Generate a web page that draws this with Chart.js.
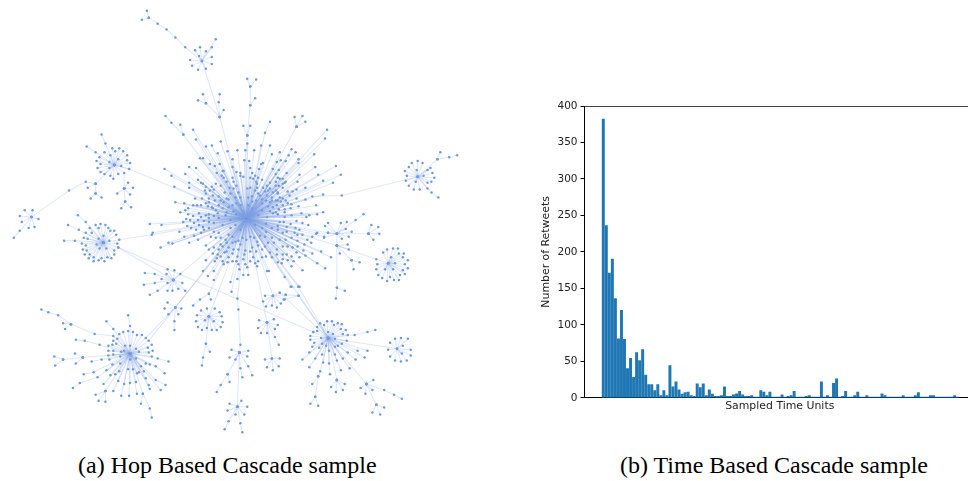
<!DOCTYPE html>
<html>
<head>
<meta charset="utf-8">
<script src="https://cdn.jsdelivr.net/npm/chart.js@4"></script>
<style>
    html, body { margin: 0; padding: 0; background: #fff; width: 968px; height: 481px; overflow: hidden; }
    #red { position: absolute; left: 0; top: 0; width: 530px; height: 445px; }
    #barras { position: absolute; left: 520px; top: 95px; width: 455px; height: 318px; }
    .caption { position: absolute; top: 452px; font: 24px "Liberation Serif", serif; color: #000; white-space: nowrap; }
</style>
</head>
<body>
<div id="red"><canvas id="grafoHop"></canvas></div>
<div id="barras"><canvas id="grafoTime"></canvas></div>
<div class="caption" style="left:78px">(a) Hop Based Cascade sample</div>
<div class="caption" style="left:620px">(b) Time Based Cascade sample</div>

<script>
// Retweets por unidad de tiempo
const retweets = [382,236,171,190,136,81,120,80,40,54,28,62,51,66,31,18,18,10,18,3,10,3,44,15,22,11,5,7,8,3,2,19,14,19,3,11,5,2,2,3,15,
    2,2,4,5.5,8.7,4,2,2,3,1,1,10,8,3,8,1,1,1,4,1,2,3,9,1,1,1,2,3,1,1,1,22,1,3,1,20,26,1,2,9,
    1,1,3,8,1,1,3,1,1,1,1,5.5,3,1,1,1,1,1,3,1,1,1,3,7,1,1,1,3,3,1,1,1,1,1,1,3,1];
const retweetTicks = [0,50,100,150,200,250,300,350,400];

// Nodos centrales de la cascada
const hubMain = [246,218];
const hubTop = [201,58];
const hubEast = [420,176];
const hubMidRight = [338,234];
const hubEast2 = [390,264];
const hubNW = [112,164];
const hubFarLeft = [28,217];
const hubW = [101,243];
const hubSW = [128,356];
const hubSE = [329,340];
const hubRight = [399,351];
const hubC1 = [172,281];
const hubC2 = [174,309];
const hubC3 = [208,318];
const hubC4 = [273,297];
const hubC5 = [267,324];
const hubC6 = [272,361];
const hubC7 = [239,355];
const hubC8 = [237,410];

const leavesMain = [[195,138],[205,145],[211,144],[220,140],[217,152],[237,149],[247,142],[261,144],[270,144],[245,149],[254,149],[227,150],[199,157],[202,157],[292,148],[296,151],[280,151],[272,153],[289,154],[315,153],[326,137],[299,158],[299,162],[286,160],[277,161],[281,159],[263,162],[261,163],[249,160],[244,159],[232,158],[209,163],[214,165],[219,163],[232,166],[188,166],[195,167],[163,168],[170,175],[184,173],[222,170],[223,170],[236,171],[240,172],[250,167],[259,168],[273,168],[279,169],[276,173],[287,172],[300,174],[316,166],[337,165],[342,174],[319,174],[324,180],[334,182],[286,181],[283,183],[298,181],[306,187],[324,194],[306,199],[317,205],[324,212],[318,214],[310,215],[307,217],
    [197,179],[200,182],[216,172],[221,175],[223,177],[232,177],[233,181],[240,175],[243,176],[250,177],[253,178],[256,181],[257,183],[270,182],[267,185],[278,177],[276,181],[285,182],[283,187],[279,185],[202,183],[188,182],[188,187],[173,186],[204,190],[209,190],[213,189],[236,185],[247,188],[250,187],[257,187],[263,187],[268,190],[276,190],[278,192],[288,191],[293,191],[297,189],
    [194,198],[201,198],[205,193],[208,198],[212,195],[218,196],[224,192],[230,193],[235,197],[248,197],[260,195],[267,195],[272,197],[278,193],[283,198],[290,195],[297,198],[174,202],[183,203],[187,208],[208,202],[211,207],[212,208],[218,205],[223,202],[226,198],[232,205],[262,203],[270,202],[277,205],[281,201],[292,204],[299,206],[291,208],[285,209],
    [179,212],[184,210],[187,214],[192,216],[198,213],[200,217],[205,215],[208,214],[217,213],[218,218],[225,215],[230,220],[193,223],[198,225],[202,227],[208,222],[213,223],[222,225],[267,217],[273,213],[278,214],[280,222],[285,217],[292,215],[302,213],[297,221],[303,223],[309,225],[287,227],
    [178,232],[160,225],[151,233],[148,224],[183,237],[193,236],[197,240],[203,230],[208,228],[213,232],[218,233],[228,235],[232,237],[225,240],[235,242],[242,238],[250,237],[257,242],[265,237],[272,238],[278,230],[283,233],[287,232],[295,233],[298,235],[303,235],[313,237],[318,233],[325,237],[167,243],[171,244],[188,243],[159,248],
    [205,246],[213,248],[220,245],[222,247],[228,248],[233,250],[240,245],[245,251],[252,248],[258,246],[265,247],[270,253],[277,250],[283,247],[288,247],[293,248],[298,247],[297,253],[287,255],[283,255],[313,254],[322,252],[332,258],[217,255],[224,253],[228,258],[222,262],[237,257],[243,260],[253,258],[258,262],[266,257],[278,263],[292,257],
    [205,261],[214,262],[223,265],[227,263],[238,265],[245,265],[247,268],[255,264],[257,267],[267,272],[269,272],[282,264],[292,267],[303,271],[318,264],[326,269],[239,270],[243,276],[248,276],[213,272],[207,277],[202,272],[285,278],[292,288],[300,288],[230,283],[237,280],[231,293],[213,281]];
// Nodos del anillo denso alrededor del centro
const leavesMainDense = [[252,172],[255,175],[258,177],[262,179],[255,190],[258,193],[252,196],[265,191],[270,188],[273,192],[280,178],[283,178],[276,185],[272,200],[276,200],[280,197],[286,200],[288,203],[283,205],[278,200],[266,200],[262,199],[256,200],[252,201],[268,206],[273,207],[279,209],[285,212],[276,212],[270,211],
    [205,186],[211,186],[215,183],[220,185],[226,181],[229,187],[233,188],[238,192],[240,197],[228,199],[220,200],[214,200],[207,206],[205,203],[200,205],[196,205],[192,205],[215,210],[222,208],[228,207],[236,203],[240,205],[233,211],[226,212],[213,216],[208,218],[203,221],[197,220],[189,220],[185,219],[182,222],[186,226],[190,228],[195,230],[200,233],
    [210,237],[215,238],[220,238],[226,243],[232,243],[238,241],[246,240],[254,238],[260,236],[266,232],[272,228],[278,226],[284,222],[291,224],[296,228],[300,230],[292,238],[286,240],[280,240],[274,243],[268,243],[262,250],[256,252],[250,252],[244,255],[238,250],[232,254],[226,252],[218,250],[212,254],[208,250],[216,259],[220,257],[232,262],[236,262],[250,262],[262,258],[272,258],[277,255],[283,260],[288,261],[294,262],[300,258],[305,245],[298,241],[308,240],[312,243],[304,251],[306,256],
    [255,225],[258,215],[235,225],[236,214],[252,208],[248,205],[262,210],[266,224],[230,228],[262,228],[240,230]];
const leavesTop = [[215,36],[211,44],[205,48],[199,44],[194,47],[198,53],[189,57],[191,63],[197,67],[205,66],[211,61],[211,54]];
const leavesEast = [[433,167],[435,172],[437,177],[434,181],[430,182],[430,188],[422,189],[416,189],[411,185],[408,180],[409,175],[407,170],[411,166],[414,162],[420,160],[425,162],[419,169],[430,169],[426,175],[418,181]];
const leavesMidRight = [[348,222],[342,223],[329,223],[326,226],[317,234],[329,233],[325,238],[343,239],[350,237],[353,232],[347,229]];
const leavesEast2 = [[385,253],[389,250],[395,249],[400,249],[406,254],[405,258],[410,261],[407,265],[410,269],[405,271],[407,275],[402,276],[401,281],[396,281],[392,278],[389,282],[384,279],[380,276],[378,270],[379,265],[387,270],[395,270],[397,264],[393,258],[401,254]];
const leavesNW = [[110,147],[117,147],[113,150],[121,150],[102,151],[108,154],[125,154],[97,156],[116,158],[125,159],[94,160],[107,161],[128,162],[98,163],[119,165],[95,167],[107,167],[127,168],[98,171],[102,173],[116,173],[108,175],[111,178]];
const leavesFarLeft = [[29,210],[21,210],[16,216],[18,222],[25,228],[31,227],[35,219]];
const leavesW = [[87,228],[93,225],[98,224],[103,225],[106,228],[96,228],[89,233],[108,231],[112,231],[83,233],[114,235],[101,236],[81,238],[85,239],[96,239],[79,244],[94,245],[107,241],[115,244],[83,246],[80,250],[97,249],[104,249],[84,251],[112,251],[82,255],[87,255],[112,255],[91,258],[86,259],[99,259],[105,258],[109,259],[91,262],[96,261],[102,262]];
const leavesSW = [[126,333],[117,336],[121,334],[131,334],[135,337],[140,337],[115,341],[111,343],[114,346],[110,347],[106,348],[150,347],[123,348],[128,348],[134,351],[146,350],[151,353],[106,353],[111,353],[119,354],[122,353],[137,354],[147,355],[106,358],[111,357],[118,359],[150,359],[134,361],[128,362],[107,362],[148,367],[144,366],[118,366],[110,367],[139,369],[126,372],[131,372],[117,374],[104,373],[135,376],[142,374],[137,375],[113,377],[108,378],[144,381],[116,384],[122,387],[128,386],[134,385],[147,388],[101,387],[111,394],[159,393],[119,399],[127,399],[135,397]];
const leavesSE = [[321,325],[328,323],[333,323],[325,327],[339,325],[343,326],[318,329],[335,327],[347,332],[318,333],[342,331],[329,334],[314,334],[334,336],[344,336],[349,337],[311,338],[322,340],[311,342],[336,341],[348,343],[315,345],[323,346],[343,346],[339,348],[313,349],[327,348],[336,349],[320,350],[330,353],[310,355],[323,357],[336,357],[349,355],[359,353],[369,353],[316,361],[303,362],[344,361],[338,363],[357,362],[366,360],[324,365],[330,366],[310,370],[351,371],[342,373],[331,377]];
const leavesRight = [[390,352],[392,345],[397,341],[403,340],[410,341],[405,348],[413,352],[413,358],[409,363],[403,364],[397,363],[392,359],[404,356]];
const leavesC1 = [[166,270],[173,271],[165,275],[179,275],[160,280],[166,284],[181,284],[166,292],[171,292],[177,290],[184,292]];
const leavesC2 = [[166,304],[163,310],[167,316],[180,310],[177,316]];
const leavesC3 = [[200,312],[206,310],[214,310],[219,314],[196,317],[221,318],[195,323],[204,322],[213,323],[222,324],[197,329],[201,332],[206,330],[211,332],[216,332],[220,329]];
const leavesC4 = [[265,297],[280,294],[286,296],[285,301],[281,305],[263,303],[266,308],[272,307],[277,309]];
const leavesC5 = [[259,322],[274,321],[278,327],[258,330],[275,331],[267,335],[261,335]];
const leavesC6 = [[265,362],[280,361],[267,370],[273,373],[279,369]];
const leavesC7 = [[231,352],[248,353],[229,360],[247,359],[235,362]];
const leavesC8 = [[229,407],[241,404],[227,414],[247,410],[235,418],[244,418]];

// Cadenas de retweets que salen de los nodos
const chains = [
    [hubMain,[219,115],hubTop],
    [hubTop,[184,44],[174,34],[165,26],[156,20],[147,14],[145,7]], [[147,14],[140,16]],
    [[219,115],[223,108]], [[219,115],[218,100],[219,92]], [[219,115],[205,101],[202,92]], [[205,101],[197,98]],
    [hubMain,[247,134],[250,103],[250,84],[247,76]], [[250,84],[256,77]], [[250,103],[255,96]], [[247,134],[243,124]], [[247,134],[250,124]],
    [hubMain,[265,131],[270,120]], [hubMain,[297,125],[295,115]], [[297,125],[303,114]], [[297,125],[306,120]], [hubMain,[328,128]],
    [hubMain,[182,133],[179,123]], [[182,133],[170,121],[164,114]], [hubMain,[192,128]],
    [hubMain,[313,196],[343,195],hubEast], [hubEast,[440,158],[443,151]], [[440,158],[452,156],[460,154]], [hubEast,[434,192],[441,197]],
    [hubMain,[329,233],hubMidRight], [hubMidRight,[357,220],[365,214]], [hubMidRight,[370,234],[373,225]], [[370,234],[380,227]], [[370,234],[381,234]], [[370,234],[375,240]],
    [hubMain,[338,246],[349,245]], [hubMidRight,[338,246],[350,250]], [[338,246],[341,254]], [[338,246],[353,261],[361,263]], [[353,261],[355,270]],
    [[338,246],[338,289],[346,292]], [[338,289],[337,300]], [[338,246],[378,260],hubEast2],
    [hubMain,[127,168],hubNW], [hubNW,[93,183],[83,181],[66,190],hubFarLeft], [[93,183],[85,187]], [[93,183],[93,193],[99,197]], [[93,193],[88,198]],
    [hubNW,[122,172],[122,188],[126,182]], [[122,188],[131,187]], [[122,188],[115,193]], [[122,188],[128,194]], [[122,188],[123,201],[129,207]], [[123,201],[119,208]],
    [hubNW,[103,142],[99,133]], [hubNW,[93,151],[84,145]],
    [hubFarLeft,[16,231],[10,238]],
    [hubW,[83,222],[75,215]], [hubW,[76,230],[65,225]], [hubW,[72,241],[61,241]],
    [hubW,[117,240],[150,235],hubMain], [hubW,[116,248],hubC1], [[116,248],[314,334]],
    [hubMain,hubC1], [hubC1,[153,275],[143,274]], [hubC1,[153,284],[142,286]], [hubC1,[156,292],[148,296]],
    [hubSW,[111,331],[104,323]], [hubSW,[128,328],[126,317]], [hubSW,[111,338],[92,336],[68,326],[55,317],[45,314],[38,311]], [[68,326],[60,325]], [[68,326],[62,331]],
    [hubSW,[97,347],[82,343],[73,342]], [hubSW,[80,360],[72,356]], [[80,360],[60,362],[51,359]], [[60,362],[52,368]], [[80,360],[73,366]],
    [hubSW,[99,362],[89,364]], [hubSW,[91,375],[81,377]], [hubSW,[95,380],[77,386],[70,391]], [hubSW,[103,394],[93,398]], [[103,394],[96,404]], [[103,394],[103,405]],
    [hubSW,[141,397],[139,407]], [[141,397],[148,412],[150,421]], [hubSW,[156,361],[167,364]], [hubSW,[154,369],[163,376]], [hubSW,[154,383],[164,388]], [hubSW,[148,392]],
    [hubSW,[144,340],hubC2,hubMain], [hubSW,[147,343],hubMain],
    [hubC2,[173,323],[173,332]],
    [hubMain,[208,295],[199,301],[192,307]], [[208,295],[210,301]], [hubMain,hubC3], [hubC3,[205,346],[202,360],[201,368]], [[205,346],[209,354]],
    [hubMain,[237,300],[238,311],[240,347],hubC7], [hubC7,hubC8], [hubC8,[228,425],[224,433]], [hubC8,[240,427],[242,436]],
    [hubC7,[227,377],[220,388],[216,395]], [[227,377],[229,385]], [hubC7,[240,371],[242,380]], [hubC7,[248,369],[252,378]],
    [hubMain,hubC5], [hubC5,[275,339],[279,347]], [hubC5,hubC6], [hubMain,hubC4],
    [hubMain,hubSE], [hubMain,[299,288],hubSE], [[299,288],[291,288]], [hubSE,[299,297],[286,296]], [[299,297],[284,301]], [hubSE,[280,294]],
    [hubSE,[321,374],[319,379],[313,387]], [[319,379],[316,400],[311,407]], [[316,400],[319,409]],
    [hubSE,[338,383],[346,387]], [[338,383],[332,390]], [[338,383],[337,395]], [[338,383],[344,393]],
    [hubSE,[368,387],[375,383]], [[368,387],[362,391]], [[368,387],[374,393]], [[368,387],[367,397]], [[368,387],[386,393],[396,398],[404,402]], [[368,387],[378,408],[386,411]], [[378,408],[374,416]], [[378,408],[382,418]],
    [hubSE,[356,337],[369,334],[377,332]], [hubSE,hubRight]
];

const estrellas = [
    [hubMain,leavesMain],[hubMain,leavesMainDense],[hubTop,leavesTop],[hubEast,leavesEast],[hubMidRight,leavesMidRight],[hubEast2,leavesEast2],
    [hubNW,leavesNW],[hubFarLeft,leavesFarLeft],[hubW,leavesW],[hubSW,leavesSW],[hubSE,leavesSE],[hubRight,leavesRight],
    [hubC1,leavesC1],[hubC2,leavesC2],[hubC3,leavesC3],[hubC4,leavesC4],[hubC5,leavesC5],[hubC6,leavesC6],[hubC7,leavesC7],[hubC8,leavesC8]
];

// Cada arista es su propio dataset para que la transparencia se acumule en los nodos centrales
const colorArista = 'rgba(125,160,225,0.24)';
const aristas = [];
const nodos = [];

function agregarArista(a, b) {
    aristas.push({
        type: 'scatter',
        data: [{x: a[0], y: a[1]}, {x: b[0], y: b[1]}],
        showLine: true,
        borderColor: colorArista,
        borderWidth: 1.1,
        pointRadius: 0
    });
}

estrellas.forEach(([hub, hojas]) => {
    nodos.push({x: hub[0], y: hub[1]});
    hojas.forEach(hoja => {
        agregarArista(hub, hoja);
        nodos.push({x: hoja[0], y: hoja[1]});
    });
});
chains.forEach(cadena => {
    for (let i = 0; i < cadena.length - 1; i++) {
        agregarArista(cadena[i], cadena[i + 1]);
    }
    cadena.forEach(p => nodos.push({x: p[0], y: p[1]}));
});

new Chart(document.getElementById('grafoHop'), {
    type: 'scatter',
    data: {
        datasets: [...aristas, {
            data: nodos,
            pointRadius: 1.25,
            pointBorderWidth: 0,
            backgroundColor: '#6f9ade',
            showLine: false
        }]
    },
    options: {
        responsive: true,
        maintainAspectRatio: false,
        animation: false,
        events: [],
        plugins: { legend: { display: false }, tooltip: { enabled: false } },
        scales: {
            x: { type: 'linear', min: 0, max: 530, display: false },
            y: { type: 'linear', min: 0, max: 445, reverse: true, display: false }
        }
    }
});

const fuenteTicks = { family: '"DejaVu Sans"', size: 10.5 };
const fuenteTitulos = { family: '"DejaVu Sans"', size: 10.9 };

new Chart(document.getElementById('grafoTime'), {
    type: 'bar',
    data: {
        datasets: [{
            data: retweets.map((v, i) => ({x: i, y: v})),
            backgroundColor: '#1f77b4',
            barThickness: 2.3
        }]
    },
    options: {
        responsive: true,
        maintainAspectRatio: false,
        animation: false,
        events: [],
        layout: { padding: 0 },
        plugins: { legend: { display: false }, tooltip: { enabled: false } },
        scales: {
            x: {
                type: 'linear', offset: false, min: -6.2, max: 122.7,
                grid: { display: false },
                border: { color: '#000', width: 1 },
                ticks: { display: false },
                title: { display: true, text: 'Sampled Time Units', color: '#222', font: fuenteTitulos, padding: 0 },
                afterFit: scale => { scale.height = 15.2; }
            },
            arriba: {
                type: 'linear', axis: 'x', position: 'top',
                grid: { display: false },
                border: { color: '#444', width: 1 },
                ticks: { display: false },
                afterFit: scale => { scale.height = 11; }
            },
            y: {
                min: 0, max: 400,
                afterBuildTicks: scale => { scale.ticks = retweetTicks.map(v => ({value: v})); },
                grid: { drawOnChartArea: false, color: '#000', tickLength: 4 },
                border: { color: '#000', width: 1 },
                ticks: { color: '#222', font: fuenteTicks, padding: 3 },
                title: { display: true, text: 'Number of Retweets', color: '#222', font: fuenteTitulos, padding: { top: 20, bottom: 0 } },
                afterFit: scale => { scale.width = 64.5; }
            }
        }
    }
});
</script>
</body>
</html>
